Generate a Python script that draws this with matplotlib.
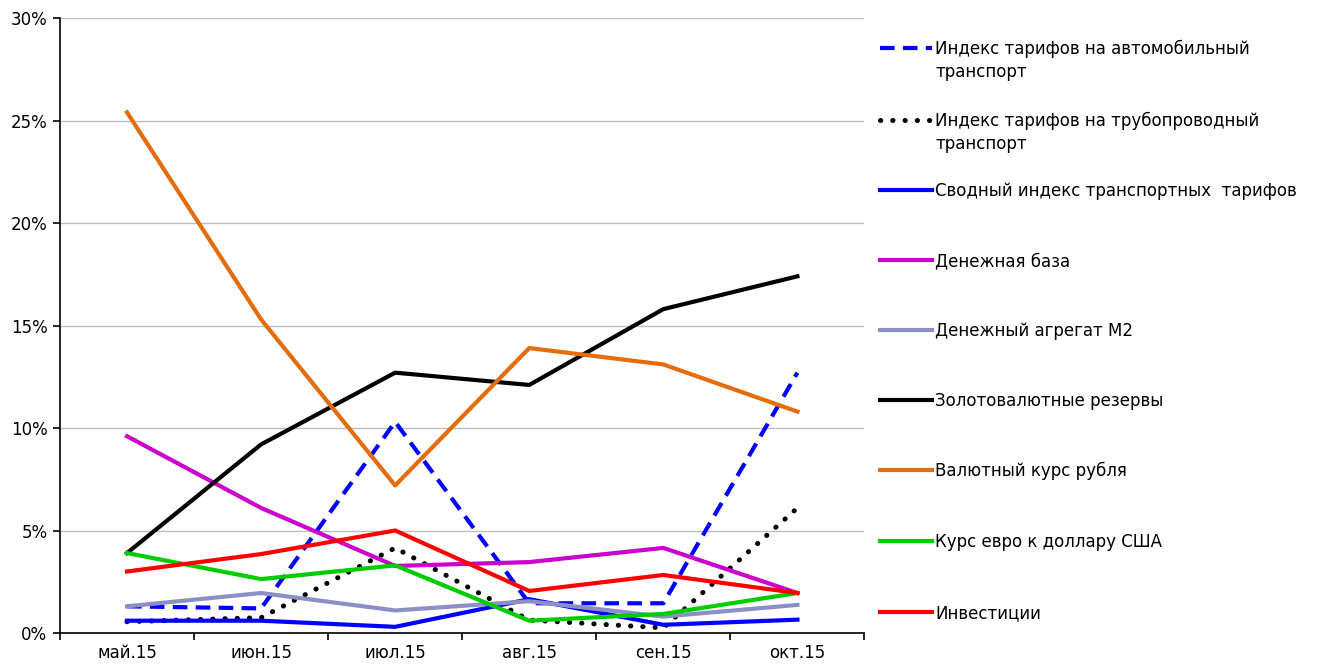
import matplotlib.pyplot as plt
from matplotlib.lines import Line2D
import numpy as np

plt.rcParams['font.family'] = ['DejaVu Sans']

months = ["май.15", "июн.15", "июл.15", "авг.15", "сен.15", "окт.15"]

auto_tariff = [1.3, 1.2, 10.3, 1.45, 1.45, 12.7]
pipe_tariff = [0.55, 0.75, 4.15, 0.63, 0.25, 6.1]
transport_idx = [0.6, 0.6, 0.3, 1.65, 0.4, 0.65]
money_base = [9.6, 6.1, 3.27, 3.46, 4.15, 1.95]
m2 = [1.3, 1.95, 1.1, 1.55, 0.8, 1.37]
reserves = [3.9, 9.2, 12.7, 12.1, 15.8, 17.4]
rub_rate = [25.4, 15.3, 7.2, 13.9, 13.1, 10.8]
eur_usd = [3.9, 2.63, 3.3, 0.6, 0.93, 1.95]
invest = [3.0, 3.85, 5.0, 2.05, 2.83, 1.95]

DOT = (0, (0.05, 2.4))
series = [
    (auto_tariff, "Индекс тарифов на автомобильный\nтранспорт", "#0000FF", (0, (3.5, 2))),
    (pipe_tariff, "Индекс тарифов на трубопроводный\nтранспорт", "#000000", DOT),
    (transport_idx, "Сводный индекс транспортных  тарифов", "#0000FF", "-"),
    (money_base, "Денежная база", "#CC00CC", "-"),
    (m2, "Денежный агрегат М2", "#8C8FC6", "-"),
    (reserves, "Золотовалютные резервы", "#000000", "-"),
    (rub_rate, "Валютный курс рубля", "#E46C0A", "-"),
    (eur_usd, "Курс евро к доллару США", "#00CC00", "-"),
    (invest, "Инвестиции", "#FF0000", "-"),
]

W, H = 1332, 668
fig = plt.figure(figsize=(W / 100, H / 100), dpi=100)
ax = fig.add_axes([0.045, 0.0524, 0.604, 0.9206])

x = np.arange(len(months))
for vals, label, color, ls in series:
    if ls == DOT:
        ax.plot(x, vals, color=color, linestyle=ls, lw=3.6, dash_capstyle='round')
    else:
        ax.plot(x, vals, color=color, linestyle=ls, lw=3)

ax.set_xlim(-0.5, 5.5)
ax.set_ylim(0, 30)
ax.set_yticks(np.arange(0, 31, 5))
ax.set_yticklabels([f"{v}%" for v in range(0, 31, 5)], fontsize=12)
ax.set_xticks(np.arange(-0.5, 6, 1))
ax.set_xticklabels([])
ax.set_xticks(x, minor=True)
ax.set_xticklabels(months, minor=True, fontsize=12)
ax.tick_params(axis='x', which='minor', length=0, pad=8)
ax.tick_params(axis='x', which='major', length=5, width=1.2)
ax.tick_params(axis='y', length=5, width=1.2, pad=4)
ax.grid(axis='y', color='#bdbdbd', lw=1)
ax.set_axisbelow(True)
for s in ['top', 'right']:
    ax.spines[s].set_visible(False)
for s in ['left', 'bottom']:
    ax.spines[s].set_linewidth(1.2)

# legend drawn by hand to follow the original spacing (pixel rows from top)
legend_rows = [48, 120, 190, 260, 330, 400, 470, 541, 612]
for (vals, label, color, ls), row in zip(series, legend_rows):
    yf = 1 - row / H
    kw = dict(dash_capstyle='round') if ls == DOT else {}
    fig.add_artist(Line2D([880 / W, 932 / W], [yf, yf], transform=fig.transFigure,
                          color=color, linestyle=ls, lw=3.6 if ls == DOT else 3, **kw))
    fig.text(935 / W, 1 - (row - 8) / H, label, fontsize=12, va='top', ha='left',
             linespacing=1.35)

plt.savefig("out.png", dpi=100)
